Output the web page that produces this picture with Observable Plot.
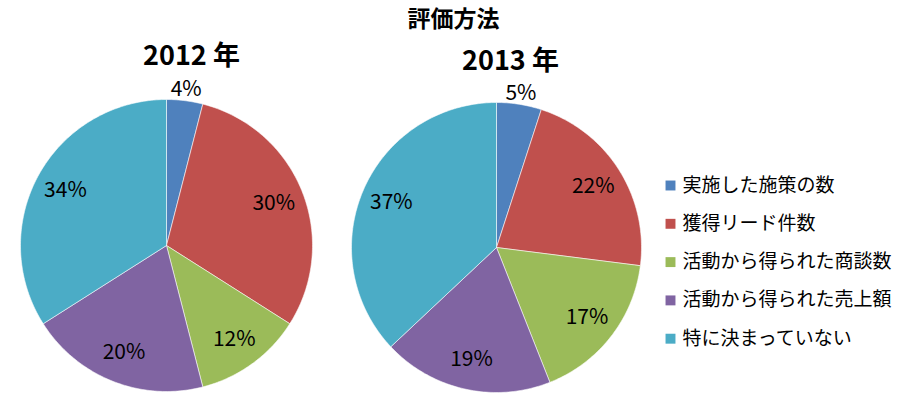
<!DOCTYPE html>
<html><head><meta charset="utf-8">
<script src="https://cdn.jsdelivr.net/npm/d3@7"></script>
<script src="https://cdn.jsdelivr.net/npm/@observablehq/plot@0.6"></script>
<style>body{margin:0;background:#fff;} #chart svg{display:block;}</style>
</head><body><div id="chart"></div>
<script>
// ---- data ----
const chartTitle = "評価方法";
const categories = ["実施した施策の数", "獲得リード件数", "活動から得られた商談数", "活動から得られた売上額", "特に決まっていない"];
const years = ["2012 年", "2013 年"];
const values2012 = [4, 30, 12, 20, 34];
const values2013 = [5, 22, 17, 19, 37];
const colors = ["#4F81BD", "#C0504D", "#9BBB59", "#8064A2", "#4BACC6"];

// ---- layout ----
const W = 904, H = 396;
const FONT = "'Noto Sans CJK JP', 'Noto Sans', sans-serif";
const pies = [
  {year: years[0], values: values2012, cx: 166, cy: 245, r: 146, tx: 191, ty: 56},
  {year: years[1], values: values2013, cx: 496, cy: 247, r: 145, tx: 510, ty: 61}
];
const legend = {x: 670, tx: 682, y0: 185, dy: 38.3};

const slicePts = [], labels = [], titles = [];
for (const p of pies) {
  const total = d3.sum(p.values);
  const arcs = d3.pie().sort(null).value(d => d)(p.values);
  arcs.forEach((a, i) => {
    const key = p.year + i;
    const pt = (ang, R) => ({x: p.cx + R * Math.sin(ang), y: p.cy - R * Math.cos(ang)});
    slicePts.push({key, cat: categories[i], ...pt(0, 0)});
    const n = Math.max(2, Math.ceil((a.endAngle - a.startAngle) / (Math.PI / 180)));
    for (let k = 0; k <= n; k++) {
      const ang = a.startAngle + (a.endAngle - a.startAngle) * k / n;
      slicePts.push({key, cat: categories[i], ...pt(ang, p.r)});
    }
    slicePts.push({key, cat: categories[i], ...pt(0, 0)});
    const mid = (a.startAngle + a.endAngle) / 2;
    const share = p.values[i] / total;
    const R = share < 0.08 ? p.r + 11 : p.r * 0.79;
    labels.push({text: Math.round(share * 100) + "%", ...pt(mid, R)});
  });
  titles.push({text: p.year, x: p.tx, y: p.ty});
}
const legendItems = categories.map((c, i) => ({cat: c, y: legend.y0 + i * legend.dy}));

const chart = Plot.plot({
  width: W, height: H,
  margin: 0,
  x: {domain: [0, W], range: [0, W], axis: null},
  y: {domain: [0, H], range: [0, H], axis: null},
  color: {domain: categories, range: colors},
  style: {fontFamily: FONT, background: "#fff"},
  marks: [
    Plot.line(slicePts, {x: "x", y: "y", z: "key", fill: "cat", stroke: "#ffffff", strokeWidth: 0.8, strokeOpacity: 0.7, curve: "linear"}),
    Plot.text(labels, {x: "x", y: "y", text: "text", fontSize: 21, fontFamily: FONT, fill: "#000", textAnchor: "middle", lineAnchor: "middle"}),
    Plot.text(titles, {x: "x", y: "y", text: "text", fontSize: 27, fontWeight: "bold", fontFamily: FONT, fill: "#000", textAnchor: "middle", lineAnchor: "middle"}),
    Plot.text([chartTitle], {x: () => 453, y: () => 19, text: d => d, fontSize: 23, fontWeight: "bold", fontFamily: FONT, fill: "#000", textAnchor: "middle", lineAnchor: "middle"}),
    Plot.dot(legendItems, {x: () => legend.x, y: "y", fill: "cat", symbol: "square", r: 5.6, stroke: null}),
    Plot.text(legendItems, {x: () => legend.tx, y: "y", text: "cat", fontSize: 19, fontFamily: FONT, fill: "#000", textAnchor: "start", lineAnchor: "middle"})
  ]
});
document.getElementById("chart").appendChild(chart);
</script>
</body></html>
